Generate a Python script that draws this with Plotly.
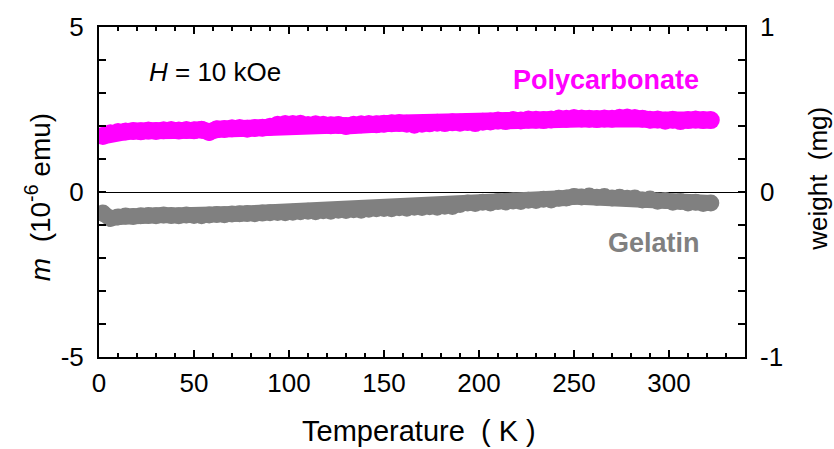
import plotly.graph_objects as go

temperature = [2, 6, 10, 14, 18, 22, 26, 30, 34, 38, 42, 46, 50, 54, 58, 62, 66, 70, 74, 78,
               82, 86, 90, 94, 98, 102, 106, 110, 114, 118, 122, 126, 130, 134, 138, 142, 146, 150, 154, 158,
               162, 166, 170, 174, 178, 182, 186, 190, 194, 198, 202, 206, 210, 214, 218, 222, 226, 230, 234, 238,
               242, 246, 250, 254, 258, 262, 266, 270, 274, 278, 282, 286, 290, 294, 298, 302, 306, 310, 314, 318, 322]

polycarbonate = [1.70, 1.78, 1.82, 1.83, 1.85, 1.84, 1.86, 1.85, 1.87, 1.88, 1.86, 1.88, 1.87, 1.89, 1.82, 1.90, 1.91, 1.93, 1.94, 1.92,
                 1.94, 1.95, 1.98, 2.04, 2.06, 2.06, 2.07, 2.03, 2.05, 2.04, 2.02, 2.03, 2.00, 2.04, 2.05, 2.06, 2.05, 2.07, 2.08, 2.09,
                 2.07, 2.04, 2.07, 2.08, 2.10, 2.09, 2.11, 2.10, 2.12, 2.09, 2.13, 2.14, 2.17, 2.15, 2.18, 2.17, 2.20, 2.19, 2.18, 2.20,
                 2.23, 2.22, 2.24, 2.23, 2.22, 2.21, 2.23, 2.22, 2.25, 2.26, 2.24, 2.22, 2.19, 2.20, 2.16, 2.19, 2.15, 2.18, 2.20, 2.18, 2.18]

gelatin = [-0.64, -0.80, -0.76, -0.73, -0.74, -0.72, -0.71, -0.72, -0.70, -0.71, -0.72, -0.70, -0.71, -0.72, -0.70, -0.68, -0.69, -0.67, -0.66, -0.65,
           -0.66, -0.64, -0.63, -0.62, -0.63, -0.61, -0.60, -0.58, -0.60, -0.57, -0.58, -0.55, -0.56, -0.54, -0.55, -0.52, -0.51, -0.50, -0.51, -0.48,
           -0.49, -0.46, -0.47, -0.45, -0.46, -0.43, -0.44, -0.38, -0.33, -0.35, -0.31, -0.33, -0.29, -0.30, -0.27, -0.29, -0.25, -0.26, -0.22, -0.24,
           -0.19, -0.18, -0.14, -0.15, -0.12, -0.16, -0.14, -0.18, -0.16, -0.19, -0.18, -0.24, -0.21, -0.28, -0.26, -0.31, -0.29, -0.33, -0.31, -0.35, -0.33]

x_ticks = [0, 50, 100, 150, 200, 250, 300]
x_labels = ["0", "50", "100", "150", "200", "250", "300"]
y_ticks = [-5, 0, 5]
y_labels = ["-5", "0", "5"]
y2_ticks = [-1, 0, 1]
y2_labels = ["-1", "0", "1"]

FONT = "Liberation Sans, Arial, sans-serif"
MAGENTA = "#ff00ff"
GRAY = "#808080"

fig = go.Figure()
fig.add_trace(go.Scatter(x=temperature, y=polycarbonate, mode="markers+lines",
                         line=dict(color=MAGENTA, width=17),
                         marker=dict(color=MAGENTA, size=18, line=dict(width=0)),
                         showlegend=False))
fig.add_trace(go.Scatter(x=temperature, y=gelatin, mode="markers+lines",
                         line=dict(color=GRAY, width=16),
                         marker=dict(color=GRAY, size=17, line=dict(width=0)),
                         showlegend=False))
# invisible trace for right axis
fig.add_trace(go.Scatter(x=[None], y=[None], yaxis="y2", showlegend=False))

fig.update_layout(
    width=834, height=449,
    margin=dict(l=99, r=89, t=24, b=92),
    paper_bgcolor="white", plot_bgcolor="white",
    font=dict(family=FONT, color="black"),
    xaxis=dict(range=[0, 340], tickvals=x_ticks, ticktext=x_labels, ticks="inside", ticklen=7, tickwidth=1.5,
               tickcolor="black", showline=True, linecolor="black", linewidth=2, mirror="ticks",
               showgrid=False, zeroline=False, tickfont=dict(size=26, family=FONT), ticklabelstandoff=2,
               minor=dict(dtick=10, ticks="inside", ticklen=4, tickwidth=1.5, tickcolor="black", showgrid=False)),
    yaxis=dict(range=[-5, 5], tickvals=y_ticks, ticktext=y_labels, ticks="inside", ticklen=7, tickwidth=1.5,
               tickcolor="black", showline=True, linecolor="black", linewidth=2, mirror="ticks",
               showgrid=False, zeroline=True, zerolinecolor="black", zerolinewidth=1,
               tickfont=dict(size=26, family=FONT), ticklabelstandoff=8,
               minor=dict(dtick=1, ticks="inside", ticklen=7, tickwidth=1.5, tickcolor="black", showgrid=False)),
    yaxis2=dict(range=[-1, 1], tickvals=y2_ticks, ticktext=y2_labels, overlaying="y", side="right", ticks="",
                showline=False, showgrid=False, zeroline=False,
                tickfont=dict(size=26, family=FONT), ticklabelstandoff=14),
)

fig.add_annotation(text="Temperature  ( K )", xref="paper", yref="paper", x=0.496, y=-0.225,
                   xanchor="center", yanchor="middle", showarrow=False, font=dict(size=29, family=FONT))
fig.add_annotation(text="<i>m</i>  (10<sup>-6</sup> emu)", xref="paper", yref="paper", x=-0.095, y=0.483,
                   textangle=-90, xanchor="center", yanchor="middle", showarrow=False,
                   font=dict(size=28, family=FONT))
fig.add_annotation(text="weight  (mg)", xref="paper", yref="paper", x=1.113, y=0.54,
                   textangle=-90, xanchor="center", yanchor="middle", showarrow=False,
                   font=dict(size=26, family=FONT))
fig.add_annotation(text="<i>H</i> = 10 kOe", x=25.5, y=3.63, xanchor="left", yanchor="middle",
                   showarrow=False, font=dict(size=26, family=FONT))
fig.add_annotation(text="<b>Polycarbonate</b>", x=267, y=3.4, xanchor="center", yanchor="middle",
                   showarrow=False, font=dict(size=27, family=FONT, color=MAGENTA))
fig.add_annotation(text="<b>Gelatin</b>", x=292, y=-1.56, xanchor="center", yanchor="middle",
                   showarrow=False, font=dict(size=27, family=FONT, color=GRAY))

fig.write_html("out.html", config={"displayModeBar": False},
               post_script="document.body.style.margin='0';document.body.style.padding='0';")
